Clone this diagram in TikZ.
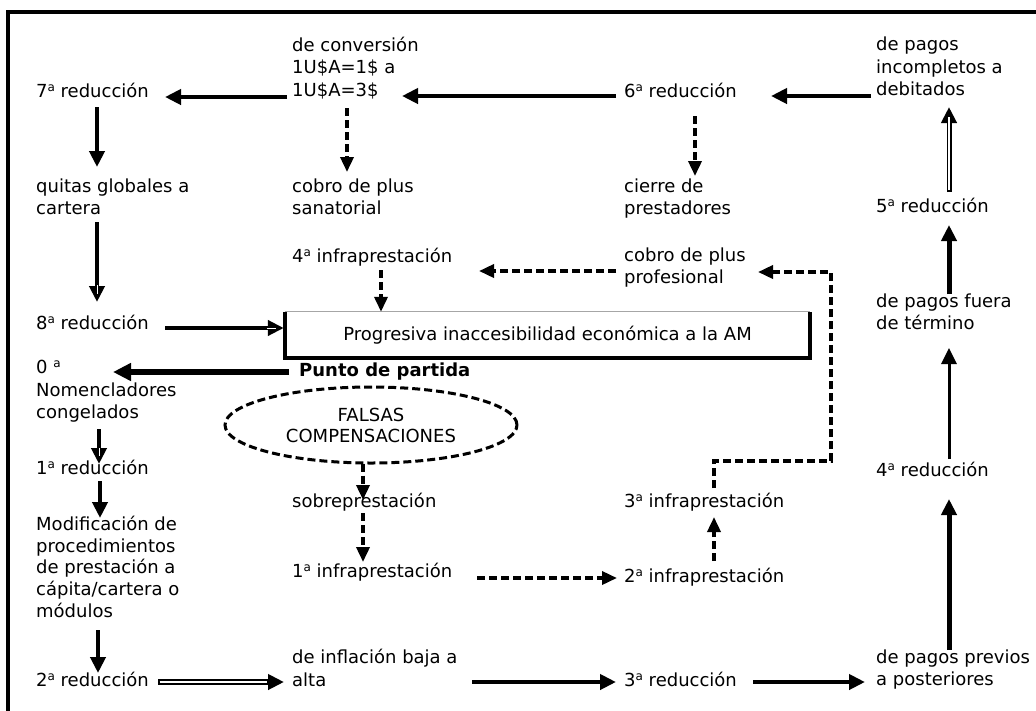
\documentclass[tikz,border=0pt]{standalone}
\usepackage{fontspec}
\setmainfont{DejaVu Sans}
\usetikzlibrary{arrows.meta,shapes.geometric}
\newcommand\supa{\raisebox{6.5pt}{\fontsize{12}{12}\selectfont a}}
\begin{document}
\begin{tikzpicture}[x=1pt,y=-1pt,
  txt/.style={anchor=west,align=left,inner sep=0pt,font=\fontsize{18}{22.5}\selectfont,execute at begin node=\strut,execute at end node=\strut},
  arr/.style={line width=4pt,-{Triangle[length=16pt,width=15pt]}},
  darr/.style={line width=3.5pt,dash pattern=on 8pt off 4pt,-{Triangle[length=15pt,width=13pt]}},
  slit/.style={white,line width=0.8pt}
]
\useasboundingbox (0,0) rectangle (1036,710);
\fill[white] (0,0) rectangle (1036,710);
% frame
\draw[line width=4pt] (8,730) -- (8,12) -- (1050,12);

% nodes
\node[txt] (r7) at (36,93) {7\supa{} reducción};
\node[txt] (conv) at (292,70) {de conversión\\1U\$A=1\$ a\\1U\$A=3\$};
\node[txt] (r6) at (624,93) {6\supa{} reducción};
\node[txt] (incomp) at (876,70) {de pagos\\incompletos a\\debitados};
\node[txt] (quitas) at (36,200) {quitas globales a\\cartera};
\node[txt] (sanat) at (292,200) {cobro de plus\\sanatorial};
\node[txt] (cierre) at (624,200) {cierre de\\prestadores};
\node[txt] (r5) at (876,208) {5\supa{} reducción};
\node[txt] (i4) at (292,258) {4\supa{} infraprestación};
\node[txt] (prof) at (624,269) {cobro de plus\\profesional};
\node[txt] (fuera) at (876,315) {de pagos fuera\\de término};
\node[txt] (r8) at (36,325) {8\supa{} reducción};
\node[minimum width=525pt,minimum height=46pt,inner sep=0pt,font=\fontsize{18}{22.5}\selectfont] (box) at (547.5,335) {Progresiva inaccesibilidad económica a la AM};
\node[txt] (r0) at (36,393) {0 \supa\\Nomencladores\\congelados};
\node[txt,font=\fontsize{18}{22.5}\selectfont\bfseries] (punto) at (299,372) {Punto de partida};
\node[draw,ellipse,line width=3pt,dash pattern=on 8pt off 4pt,minimum width=292pt,minimum height=76pt,inner sep=0pt,align=center,font=\fontsize{18}{21}\selectfont] (falsas) at (371,425) {FALSAS\\COMPENSACIONES};
\node[txt] (r1) at (36,470) {1\supa{} reducción};
\node[txt] (r4) at (876,472) {4\supa{} reducción};
\node[txt] (sobre) at (292,503) {sobreprestación};
\node[txt] (i3) at (624,503) {3\supa{} infraprestación};
\node[txt,font=\fontsize{18}{21.8}\selectfont] (modif) at (36,570) {Modificación de\\procedimientos\\de prestación a\\cápita/cartera o\\módulos};
\node[txt] (i1) at (292,573) {1\supa{} infraprestación};
\node[txt] (i2) at (624,578) {2\supa{} infraprestación};
\node[txt] (infl) at (292,671) {de inflación baja a\\alta};
\node[txt] (r2) at (36,682) {2\supa{} reducción};
\node[txt] (r3) at (624,682) {3\supa{} reducción};
\node[txt] (prev) at (876,671) {de pagos previos\\a posteriores};

% box borders
\draw[black!35,line width=1pt] (box.north west) -- (box.north east);
\draw[line width=3.5pt,line join=miter] (box.north west) -- (box.south west) -- (box.south east) -- (box.north east);

% connectors
\draw[arr] ([shift={(-8,3)}]r6.west) -- ([shift={(110,26)}]conv.west);
\draw[arr] ([shift={(-5,27)}]conv.west) -- ([shift={(129,4)}]r7.west);
\draw[arr] ([shift={(-5,26)}]incomp.west) -- ([shift={(147,3)}]r6.west);
\draw[arr] ([shift={(61,14)}]r7.west) -- ([shift={(61,-33)}]quitas.west);
\draw[darr] ([shift={(55,38)}]conv.west) -- ([shift={(55,-28)}]sanat.west);
\draw[darr] ([shift={(71,23)}]r6.west) -- ([shift={(71,-24)}]cierre.west);
% 5a reduccion -> de pagos incompletos (hollow-centred shaft)
\draw[arr,line width=5pt] ([shift={(73,-16)}]r5.west) -- ([shift={(73,37)}]incomp.west);
\draw[white,line width=1.3pt] ([shift={(73,-18)}]r5.west) -- ([shift={(73,47)}]incomp.west);
\draw[arr,line width=5pt] ([shift={(73,-21)}]fuera.west) -- ([shift={(73,17)}]r5.west);
\draw[arr,line width=3pt] ([shift={(73,-13)}]r4.west) -- ([shift={(73,33)}]fuera.west);
\draw[arr,line width=5pt] ([shift={(73,-21)}]prev.west) -- ([shift={(73,27)}]r4.west);
\draw[arr] ([shift={(129,0)}]r3.west) -- ([shift={(-11,11)}]prev.west);
\draw[arr] ([shift={(180,11)}]infl.west) -- ([shift={(-8,0)}]r3.west);
% 2a reduccion -> inflacion (double line)
\draw[arr,line width=5.2pt] ([shift={(122,0)}]r2.west) -- ([shift={(-8,11)}]infl.west);
\draw[white,line width=1.6pt] ([shift={(123.5,0)}]r2.west) -- ([shift={(-25,11)}]infl.west);
\draw[arr] ([shift={(62,60)}]modif.west) -- ([shift={(62,-9)}]r2.west);
\draw[arr] ([shift={(64,11)}]r1.west) -- ([shift={(64,-52)}]modif.west);
% congelados -> 1a reduccion
\draw[arr] ([shift={(63,36)}]r0.west) -- ([shift={(63,-6)}]r1.west);
\draw[slit] ([shift={(63,-22)}]r1.west) -- ([shift={(63,-14)}]r1.west);
\draw[line width=6.5pt,-{Triangle[length=18pt,width=17pt]}] ([shift={(-10,0)}]punto.west) -- ([shift={(77,-21)}]r0.west);
% quitas -> 8a reduccion
\draw[arr] ([shift={(61,22)}]quitas.west) -- ([shift={(61,-23)}]r8.west);
\draw[slit] ([shift={(61,-40)}]r8.west) -- ([shift={(61,-31)}]r8.west);
% 8a reduccion -> box
\draw[arr] ([shift={(129,3)}]r8.west) -- ([shift={(-1,-7)}]box.west);
\draw[slit] ([shift={(-18,-7)}]box.west) -- ([shift={(-9,-7)}]box.west);
\draw[darr] ([shift={(89,12)}]i4.west) -- ([shift={(-166.5,0)}]box.north);
\draw[darr] ([shift={(-8,2)}]prof.west) -- ([shift={(187,13)}]i4.west);
\draw[darr] ([shift={(90,-15)}]i3.west) -- ++(0,-27) -- ++(117,0) -- ++(0,-189) -- ([shift={(134,3)}]prof.west);
\draw[darr] ([shift={(90,-17)}]i2.west) -- ([shift={(90,14)}]i3.west);
\draw[darr] ([shift={(185,5)}]i1.west) -- ([shift={(-7,0)}]i2.west);
\draw[darr] ([shift={(71,10)}]sobre.west) -- ([shift={(71,-11)}]i1.west);
\draw[darr] ([shift={(-8,-1)}]falsas.south) -- ([shift={(71,-3)}]sobre.west);
\end{tikzpicture}
\end{document}
